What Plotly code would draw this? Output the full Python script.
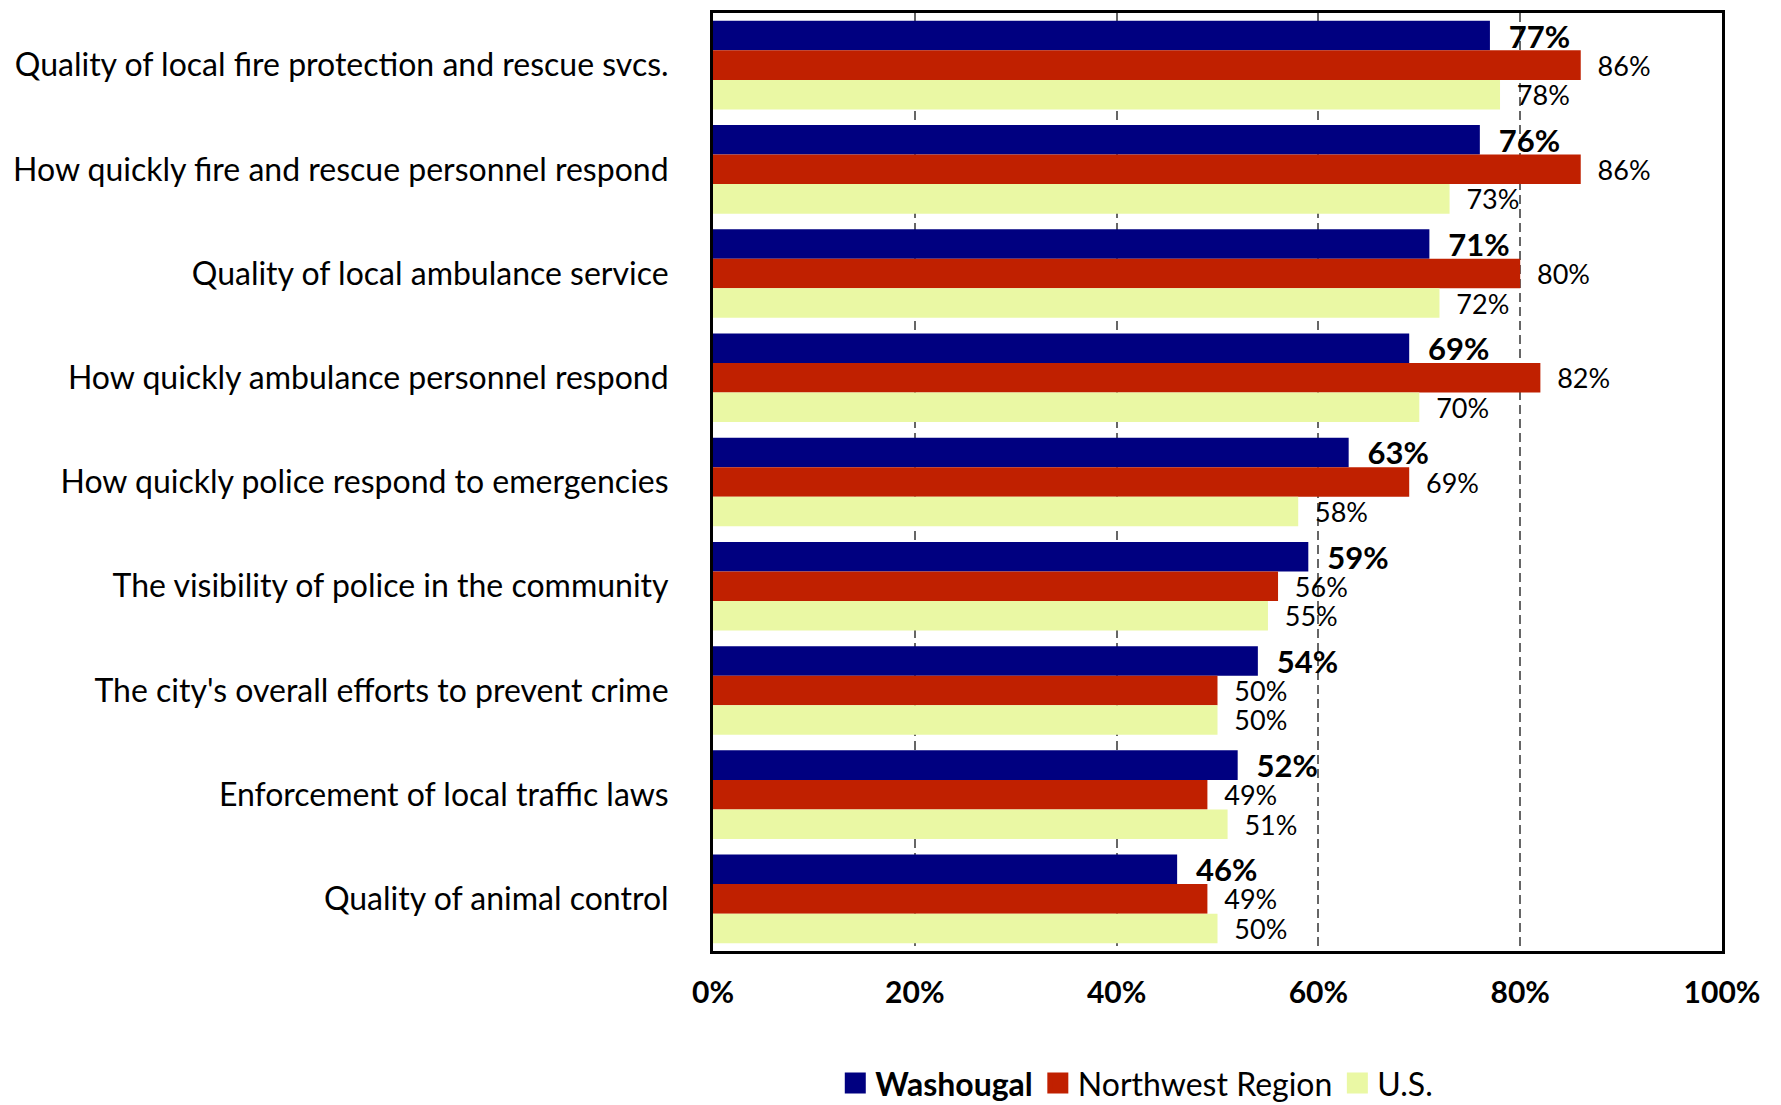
import plotly.graph_objects as go

categories = [
    "Quality of local fire protection and rescue svcs.",
    "How quickly fire and rescue personnel respond",
    "Quality of local ambulance service",
    "How quickly ambulance personnel respond",
    "How quickly police respond to emergencies",
    "The visibility of police in the community",
    "The city's overall efforts to prevent crime",
    "Enforcement of local traffic laws",
    "Quality of animal control",
]
washougal = [77, 76, 71, 69, 63, 59, 54, 52, 46]
northwest = [86, 86, 80, 82, 69, 56, 50, 49, 49]
us = [78, 73, 72, 70, 58, 55, 50, 51, 50]
series_names = ["Washougal", "Northwest Region", "U.S."]
colors = ["#000080", "#C02000", "#EAF8A4"]
tick_vals = [0, 20, 40, 60, 80, 100]
tick_text = ["0%", "20%", "40%", "60%", "80%", "100%"]

FONT = "Lato"
fig = go.Figure()
for name, vals, col in zip(series_names, [washougal, northwest, us], colors):
    bold = name == "Washougal"
    fig.add_trace(go.Bar(
        y=categories, x=vals, orientation="h", name=name,
        marker=dict(color=col, line=dict(width=0)),
        text=[("\u00a0\u00a0<b>%d%%</b>" if bold else "\u00a0\u00a0%d%%") % v for v in vals],
        textposition="outside", cliponaxis=False, constraintext="none",
        textfont=dict(family=FONT, size=31 if bold else 27, color="black"),
        showlegend=False,
    ))
    fig.add_trace(go.Scatter(
        x=[None], y=[None], mode="markers", name=("<b>%s</b>" % name) if bold else name,
        marker=dict(symbol="square", size=28, color=col, line=dict(width=5, color=col)),
        showlegend=True,
    ))

fig.update_layout(
    margin=dict(l=713, r=59, t=13, b=154, autoexpand=False),
    paper_bgcolor="white", plot_bgcolor="white",
    barmode="group", bargap=0.15, bargroupgap=0,
    font=dict(family=FONT, size=26, color="black"),
    legend=dict(orientation="h", x=0.42, xanchor="center", y=-0.141, yanchor="middle",
                font=dict(family=FONT, size=32), itemwidth=30, traceorder="normal"),
)
fig.update_xaxes(
    range=[0, 100], tickvals=tick_vals, ticktext=tick_text,
    tickfont=dict(family=FONT, size=30, color="black", weight="bold"),
    showgrid=True, gridcolor="#666666", griddash="9px,5px", gridwidth=1.5,
    showline=True, linecolor="black", linewidth=3, mirror=True,
    ticks="", ticklabelstandoff=13, zeroline=False, automargin=False,
)
fig.update_yaxes(
    autorange="reversed", type="category",
    tickfont=dict(family=FONT, size=32, color="black"),
    showline=True, linecolor="black", linewidth=3, mirror=True,
    ticks="", ticklabelstandoff=35, showgrid=False, automargin=False,
)
fig.write_html(
    "out.html",
    config={"displayModeBar": False},
    post_script="document.body.style.margin='0';document.body.style.overflow='hidden';"
                "Plotly.Plots.resize(document.getElementById('{plot_id}'));",
)
